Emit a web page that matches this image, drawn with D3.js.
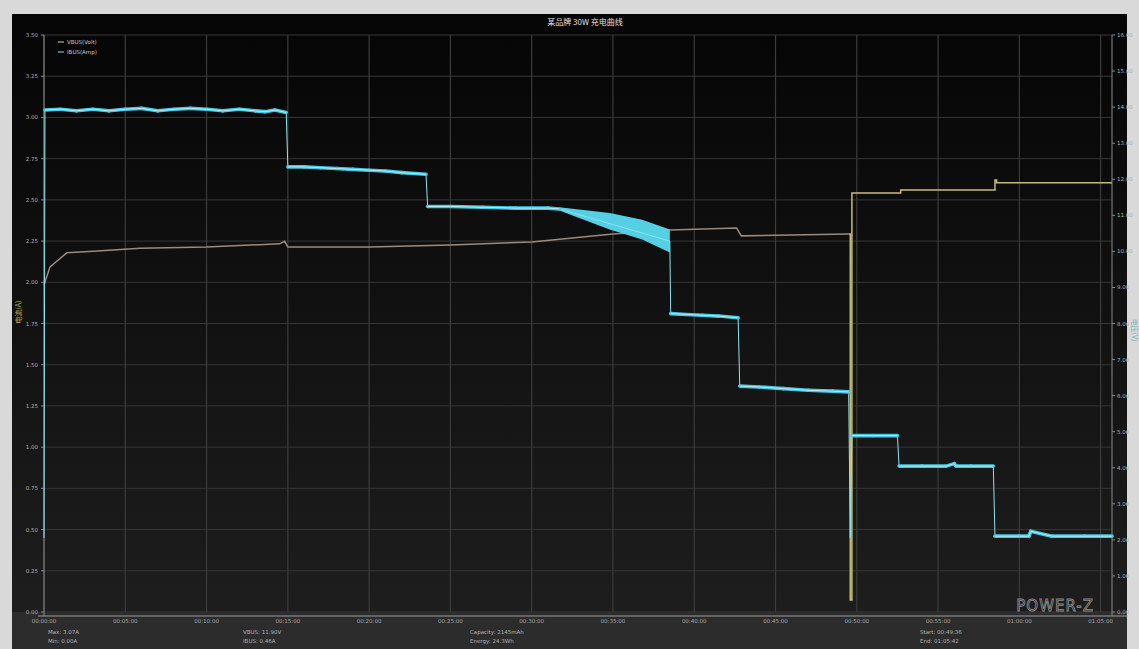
<!DOCTYPE html>
<html>
<head>
<meta charset="utf-8">
<script src="https://cdn.jsdelivr.net/npm/d3@7"></script>
<style>
  html, body { margin: 0; padding: 0; background: #d9d9d9; }
  svg { display: block; }
</style>
</head>
<body>
<div id="chart"></div>
<script>
// time in minutes, current in A (left axis), voltage in V (right axis)
const currentT = [0, 0.06, 1, 2, 3, 4, 5, 6, 7, 8, 9, 10, 11, 12, 13, 13.6, 14.2, 14.9,
  15.0, 16, 17, 18, 19, 20, 21, 22, 23.5,
  23.6, 25, 27, 29, 31, 31.7,
  38.5, 38.55, 39.5, 40.5, 41.5, 42.7,
  42.8, 44, 45.5, 47, 48.5, 49.5,
  49.6, 49.7, 51, 52.5,
  52.6, 54, 55.5, 56, 56.1, 57, 58.4,
  58.5, 60, 60.6, 60.7, 62, 64, 65.7];
const currentA = [0.45, 3.045, 3.05, 3.04, 3.05, 3.04, 3.05, 3.055, 3.04, 3.05, 3.055, 3.05, 3.04, 3.05, 3.04, 3.035, 3.045, 3.03,
  2.70, 2.70, 2.695, 2.69, 2.685, 2.68, 2.675, 2.665, 2.655,
  2.46, 2.46, 2.455, 2.45, 2.45, 2.445,
  2.25, 1.81, 1.805, 1.80, 1.795, 1.785,
  1.37, 1.365, 1.355, 1.345, 1.34, 1.335,
  0.45, 1.07, 1.07, 1.07,
  0.885, 0.885, 0.885, 0.90, 0.885, 0.885, 0.885,
  0.46, 0.46, 0.46, 0.49, 0.46, 0.46, 0.46];

// widening band just before the 38.5 min step
const bandT = [31.7, 34.8, 36.8, 38.5];
const bandHigh = [2.455, 2.42, 2.38, 2.32];
const bandLow = [2.435, 2.32, 2.26, 2.18];

const voltT1 = [0, 0.37, 1.4, 3.3, 5.9, 10, 14.5, 14.8, 15.0, 20, 25, 30, 35, 38.5, 42.6, 42.9, 49.5];
const voltV1 = [9.07, 9.57, 9.96, 10.01, 10.09, 10.12, 10.21, 10.28, 10.12, 10.12, 10.18, 10.26, 10.48, 10.59, 10.65, 10.43, 10.48];

const voltT2 = [49.5, 49.6, 49.7, 52.6, 52.7, 58.4, 58.5, 58.6, 65.7];
const voltV2 = [10.48, 0.33, 11.62, 11.62, 11.70, 11.70, 11.98, 11.90, 11.90];

const currentTicks = d3.range(0, 3.51, 0.25);
const voltTicks = d3.range(0, 16.1, 1);
const timeTicks = d3.range(0, 66, 5);

const titleText = '某品牌 30W 充电曲线';
const legendLabels = ['VBUS(Volt)', 'IBUS(Amp)'];
const footerLines = [
  ['Max: 3.07A', 'Min: 0.00A'],
  ['VBUS: 11.90V', 'IBUS: 0.46A'],
  ['Capacity: 2145mAh', 'Energy: 24.3Wh'],
  ['Start: 00:49:36', 'End: 01:05:42']
];

const width = 1139, height = 649;
const panel = { x0: 12, y0: 14, x1: 1127, y1: 649 };
const plot = { left: 44, right: 1112, top: 35, bottom: 612 };

const svg = d3.select('#chart').append('svg')
  .attr('width', width)
  .attr('height', height);

const defs = svg.append('defs');
const grad = defs.append('linearGradient').attr('id', 'bg').attr('x1', 0).attr('y1', 0).attr('x2', 0).attr('y2', 1);
grad.append('stop').attr('offset', '0%').attr('stop-color', '#050505');
grad.append('stop').attr('offset', '100%').attr('stop-color', '#1f1f1f');

svg.append('rect').attr('width', width).attr('height', height).attr('fill', '#d9d9d9');
svg.append('rect')
  .attr('x', panel.x0).attr('y', panel.y0)
  .attr('width', panel.x1 - panel.x0).attr('height', panel.y1 - panel.y0)
  .attr('fill', 'url(#bg)');
// bottom strip
svg.append('rect')
  .attr('x', panel.x0).attr('y', plot.bottom)
  .attr('width', panel.x1 - panel.x0).attr('height', panel.y1 - plot.bottom)
  .attr('fill', '#2c2c2c');

const x = d3.scaleLinear().domain([0, 65.7]).range([plot.left, plot.right]);
const yI = d3.scaleLinear().domain([0, 3.5]).range([plot.bottom, plot.top]);
const yV = d3.scaleLinear().domain([0, 16]).range([plot.bottom, plot.top]);

// grid
const grid = svg.append('g');
grid.selectAll('.hg').data(currentTicks).enter().append('line')
  .attr('x1', plot.left).attr('x2', plot.right)
  .attr('y1', d => yI(d)).attr('y2', d => yI(d))
  .attr('stroke', '#363636').attr('stroke-width', 1);
grid.selectAll('.vg').data(timeTicks).enter().append('line')
  .attr('x1', d => x(d)).attr('x2', d => x(d))
  .attr('y1', plot.top).attr('y2', plot.bottom)
  .attr('stroke', '#3c3c3c').attr('stroke-width', 1.2);

// axes lines
svg.append('line').attr('x1', plot.left).attr('x2', plot.left).attr('y1', plot.top).attr('y2', plot.bottom + 4)
  .attr('stroke', '#8a8a8a');
svg.append('line').attr('x1', plot.right).attr('x2', plot.right).attr('y1', plot.top).attr('y2', plot.bottom + 4)
  .attr('stroke', '#8a8a8a');
svg.append('line').attr('x1', 38).attr('x2', panel.x1).attr('y1', plot.bottom + 4).attr('y2', plot.bottom + 4)
  .attr('stroke', '#9a9a9a');

const fmt2 = d3.format('.2f');
svg.append('g').selectAll('text').data(currentTicks).enter().append('text')
  .attr('x', plot.left - 6).attr('y', d => yI(d) + 2)
  .attr('text-anchor', 'end')
  .attr('font-family', 'DejaVu Sans').attr('font-size', 5.5)
  .attr('fill', '#b0b0b0')
  .text(d => fmt2(d));
svg.append('g').selectAll('line').data(currentTicks).enter().append('line')
  .attr('x1', plot.left - 3).attr('x2', plot.left)
  .attr('y1', d => yI(d)).attr('y2', d => yI(d)).attr('stroke', '#8a8a8a');

svg.append('g').selectAll('text').data(voltTicks).enter().append('text')
  .attr('x', plot.right + 5).attr('y', d => yV(d) + 2)
  .attr('font-family', 'DejaVu Sans').attr('font-size', 5.5)
  .attr('fill', '#b0b0b0')
  .text(d => fmt2(d));
svg.append('g').selectAll('line').data(voltTicks).enter().append('line')
  .attr('x1', plot.right).attr('x2', plot.right + 3)
  .attr('y1', d => yV(d)).attr('y2', d => yV(d)).attr('stroke', '#8a8a8a');

const timeFmt = m => {
  const s = Math.round(m * 60);
  const p = n => String(n).padStart(2, '0');
  return p(Math.floor(s / 3600)) + ':' + p(Math.floor(s / 60) % 60) + ':' + p(s % 60);
};
svg.append('g').selectAll('text').data(timeTicks).enter().append('text')
  .attr('x', d => x(d)).attr('y', plot.bottom + 11)
  .attr('text-anchor', 'middle')
  .attr('font-family', 'DejaVu Sans').attr('font-size', 5.5)
  .attr('fill', '#a8a8a8')
  .text(d => timeFmt(d));

// axis titles
svg.append('text')
  .attr('transform', 'translate(21,312) rotate(-90)')
  .attr('text-anchor', 'middle')
  .attr('font-family', 'Noto Sans CJK SC').attr('font-size', 7)
  .attr('fill', '#b8b070').text('电流(A)');
svg.append('text')
  .attr('transform', 'translate(1132,330) rotate(90)')
  .attr('text-anchor', 'middle')
  .attr('font-family', 'Noto Sans CJK SC').attr('font-size', 7)
  .attr('fill', '#70b8c0').text('电压(V)');

// title
svg.append('text')
  .attr('x', 585).attr('y', 25)
  .attr('text-anchor', 'middle')
  .attr('font-family', 'Noto Sans CJK SC').attr('font-size', 8)
  .attr('fill', '#e0e0e0').text(titleText);

// voltage lines
const lineV = d3.line().x(d => x(d[0])).y(d => yV(d[1]));
svg.append('path')
  .datum(d3.zip(voltT1, voltV1))
  .attr('d', lineV)
  .attr('fill', 'none').attr('stroke', '#9c8a7c').attr('stroke-width', 1.5);
svg.append('path')
  .datum(d3.zip(voltT2, voltV2))
  .attr('d', lineV.curve(d3.curveStepAfter))
  .attr('fill', 'none').attr('stroke', '#c6bc7a').attr('stroke-width', 1.5);

// current band + line
const area = d3.area()
  .x(d => x(d[0])).y0(d => yI(d[2])).y1(d => yI(d[1]));
svg.append('path')
  .datum(d3.zip(bandT, bandHigh, bandLow))
  .attr('d', area)
  .attr('fill', '#55cfe4');

const lineI = d3.line().x(d => x(d[0])).y(d => yI(d[1]));
const curData = d3.zip(currentT, currentA);
// thin trace everywhere (the step edges stay thin)
svg.append('path').datum(curData).attr('d', lineI)
  .attr('fill', 'none').attr('stroke', '#8fe2f0').attr('stroke-width', 1);
// thick noisy plateaus: only pieces without a big jump
const pieces = d3.pairs(curData).filter(([a, b]) => Math.abs(a[1] - b[1]) < 0.05);
svg.append('g').selectAll('path').data(pieces).enter().append('path')
  .attr('d', lineI)
  .attr('fill', 'none').attr('stroke', '#45c6de').attr('stroke-width', 3.6).attr('stroke-linecap', 'round');
svg.append('g').selectAll('path').data(pieces).enter().append('path')
  .attr('d', lineI)
  .attr('fill', 'none').attr('stroke', '#b6eef7').attr('stroke-width', 1);

// legend
const legendColors = ['#d8d0b0', '#8adbe8'];
const legend = svg.append('g').attr('transform', 'translate(58,44)');
legendLabels.forEach((lbl, i) => {
  legend.append('line').attr('x1', 0).attr('x2', 6).attr('y1', i * 10 - 2).attr('y2', i * 10 - 2)
    .attr('stroke', legendColors[i]).attr('stroke-width', 1);
  legend.append('text').attr('x', 9).attr('y', i * 10)
    .attr('font-family', 'DejaVu Sans').attr('font-size', 5.5)
    .attr('fill', '#c8c8c8').text(lbl);
});

// footer
const footerX = [48, 243, 470, 920];
footerLines.forEach((lines, i) => {
  lines.forEach((t, j) => {
    svg.append('text').attr('x', footerX[i]).attr('y', 634 + j * 9)
      .attr('font-family', 'DejaVu Sans').attr('font-size', 5.5)
      .attr('fill', '#b4b4b4').text(t);
  });
});

// logo
svg.append('text')
  .attr('x', 1094).attr('y', 611)
  .attr('text-anchor', 'end')
  .attr('font-family', 'DejaVu Sans').attr('font-size', 15)
  .attr('letter-spacing', 1)
  .attr('fill', 'none').attr('stroke', '#8c8c8c').attr('stroke-width', 0.8)
  .text('POWER-Z');
</script>
</body>
</html>
